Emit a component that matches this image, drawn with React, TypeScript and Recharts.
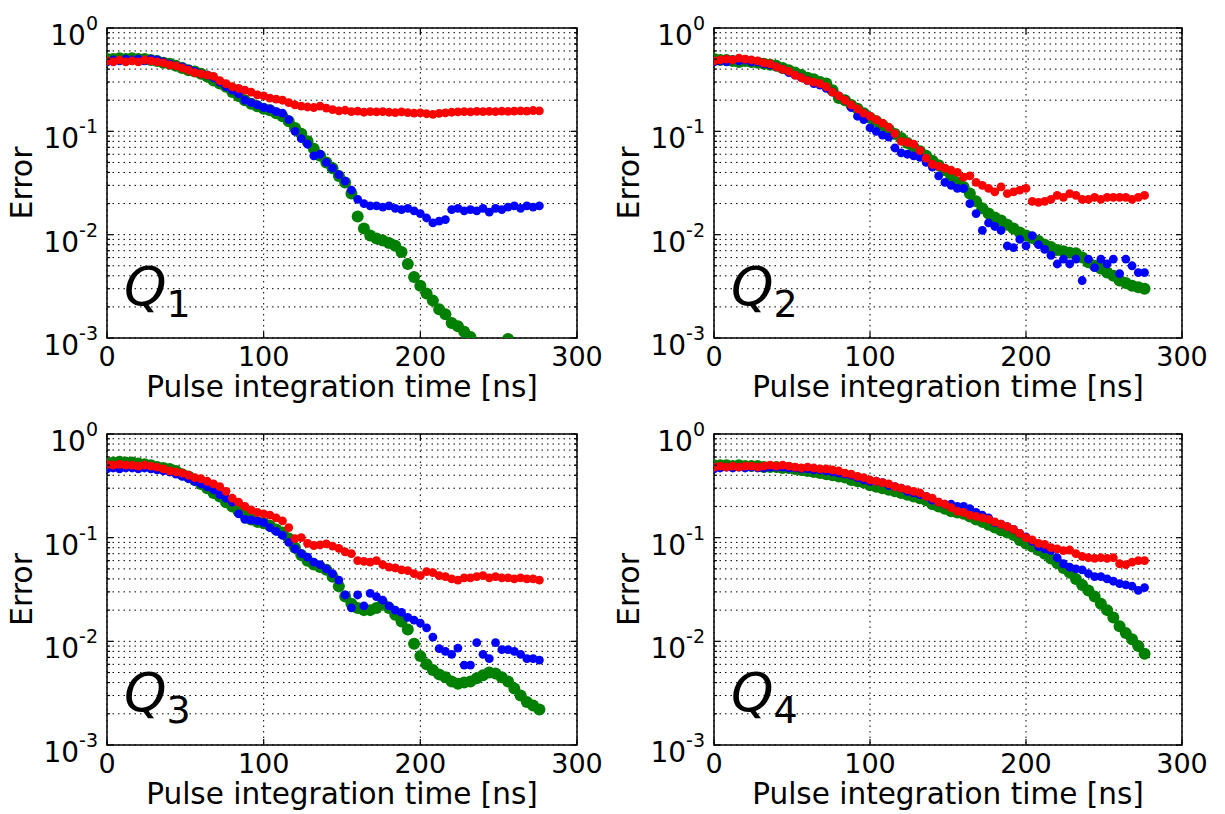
import React from "react";
import { ScatterChart, Scatter, XAxis, YAxis, CartesianGrid, ReferenceArea } from "recharts";

const FONT = "DejaVu Sans";

const TIMES = [
  0, 4, 8, 12, 16, 20, 24, 28, 32, 36,
  40, 44, 48, 52, 56, 60, 64, 68, 72, 76,
  80, 84, 88, 92, 96, 100, 104, 108, 112, 116,
  120, 124, 128, 132, 136, 140, 144, 148, 152, 156,
  160, 164, 168, 172, 176, 180, 184, 188, 192, 196,
  200, 204, 208, 212, 216, 220, 224, 228, 232, 236,
  240, 244, 248, 252, 256, 260, 264, 268, 272, 276,
];

const X_TICKS = [0, 100, 200, 300];
const Y_TICKS = [
  0.001, 0.002, 0.003, 0.004, 0.005, 0.006, 0.007, 0.008, 0.009,
  0.01, 0.02, 0.03, 0.04, 0.05, 0.06, 0.07, 0.08, 0.09,
  0.1, 0.2, 0.3, 0.4, 0.5, 0.6, 0.7, 0.8, 0.9,
  1,
];

// Q1
const q1Red = [
  0.48, 0.47, 0.49, 0.47, 0.48, 0.47, 0.49, 0.48, 0.47, 0.46,
  0.44, 0.43, 0.41, 0.39, 0.37, 0.36, 0.35, 0.34, 0.31, 0.29,
  0.27, 0.26, 0.25, 0.24, 0.225, 0.22, 0.21, 0.205, 0.2, 0.19,
  0.18, 0.175, 0.172, 0.17, 0.175, 0.168, 0.162, 0.158, 0.16, 0.155,
  0.157, 0.153, 0.155, 0.154, 0.155, 0.153, 0.152, 0.154, 0.152, 0.15,
  0.151, 0.148, 0.146, 0.149, 0.151, 0.153, 0.154, 0.155, 0.154, 0.156,
  0.155, 0.156, 0.155, 0.157, 0.156, 0.157, 0.158, 0.157, 0.159, 0.158,
];
const q1Blue = [
  0.47, 0.49, 0.48, 0.5, 0.49, 0.5, 0.48, 0.5, 0.49, 0.47,
  0.45, 0.43, 0.42, 0.4, 0.38, 0.36, 0.35, 0.33, 0.3, 0.27,
  0.25, 0.23, 0.2, 0.19, 0.18, 0.17, 0.165, 0.155, 0.15, 0.13,
  0.1, 0.085, 0.075, 0.058, 0.06, 0.05, 0.044, 0.038, 0.033, 0.027,
  0.022, 0.02, 0.019, 0.019, 0.0185, 0.019, 0.018, 0.0175, 0.018, 0.017,
  0.016, 0.0145, 0.013, 0.0135, 0.014, 0.0175, 0.018, 0.017, 0.0175, 0.017,
  0.018, 0.0165, 0.018, 0.0175, 0.0185, 0.019, 0.018, 0.019, 0.0185, 0.019,
];
const q1Green = [
  0.5, 0.5, 0.51, 0.5, 0.51, 0.5, 0.5, 0.49, 0.48, 0.46,
  0.45, 0.43, 0.41, 0.39, 0.38, 0.36, 0.34, 0.31, 0.29, 0.27,
  0.24, 0.22, 0.2, 0.185, 0.175, 0.165, 0.16, 0.15, 0.14, 0.125,
  0.108, 0.095, 0.08, 0.068, 0.058, 0.05, 0.044, 0.037, 0.032, 0.025,
  0.015, 0.0115, 0.0098, 0.0092, 0.0088, 0.0083, 0.0078, 0.0068, 0.0052, 0.0039,
  0.0032, 0.0027, 0.0023, 0.0019, 0.0017, 0.0014, 0.0013, 0.00115, 0.00102, null,
  null, null, null, null, 0.00098, null, null, null, null, null,
];

// Q2
const q2Red = [
  0.48, 0.49, 0.5, 0.49, 0.51, 0.5, 0.49, 0.48, 0.46, 0.45,
  0.42, 0.4, 0.38, 0.35, 0.33, 0.31, 0.3, 0.29, 0.27, 0.24,
  0.22, 0.2, 0.18, 0.165, 0.15, 0.14, 0.13, 0.12, 0.11, 0.095,
  0.08, 0.078, 0.075, 0.065, 0.055, 0.048, 0.046, 0.044, 0.042, 0.04,
  0.036, 0.037, 0.032, 0.03, 0.028, 0.026, 0.029, 0.025, 0.026, 0.027,
  0.028, 0.021, 0.0205, 0.021, 0.022, 0.024, 0.023, 0.025, 0.024, 0.022,
  0.022, 0.023, 0.022, 0.023, 0.023, 0.023, 0.023, 0.022, 0.023, 0.024,
];
const q2Blue = [
  0.47, 0.48, 0.47, 0.49, 0.48, 0.49, 0.47, 0.47, 0.45, 0.44,
  0.42, 0.4, 0.37, 0.35, 0.33, 0.31, 0.29, 0.28, 0.26, 0.24,
  0.22, 0.2, 0.17, 0.14, 0.13, 0.108, 0.1, 0.092, 0.088, 0.069,
  0.062, 0.06, 0.058, 0.056, 0.05, 0.045, 0.037, 0.032, 0.03, 0.028,
  0.028, 0.02, 0.016, 0.011, 0.013, 0.012, 0.011, 0.0078, 0.0075, 0.009,
  0.0078, 0.0098, 0.008, 0.0072, 0.0063, 0.0052, 0.0058, 0.0052, 0.0058, 0.0036,
  0.0058, 0.0048, 0.0058, 0.0052, 0.0058, 0.0042, 0.0058, 0.005, 0.0043, 0.0043,
];
const q2Green = [
  0.5, 0.49, 0.49, 0.48, 0.47, 0.48, 0.47, 0.46, 0.45, 0.44,
  0.43, 0.41, 0.39, 0.37, 0.35, 0.33, 0.32, 0.3, 0.29, 0.25,
  0.21, 0.2, 0.18, 0.165, 0.15, 0.135, 0.125, 0.115, 0.104, 0.094,
  0.086, 0.077, 0.07, 0.064, 0.058, 0.052, 0.047, 0.042, 0.037, 0.032,
  0.029, 0.025, 0.021, 0.018, 0.016, 0.0147, 0.0137, 0.0125, 0.0115, 0.0105,
  0.0098, 0.0093, 0.0087, 0.008, 0.0076, 0.0071, 0.0069, 0.0067, 0.0066, 0.006,
  0.0054, 0.005, 0.0047, 0.0043, 0.004, 0.0036, 0.0034, 0.0032, 0.0031, 0.003,
];

// Q3
const q3Red = [
  0.51, 0.5, 0.51, 0.5, 0.5, 0.49, 0.5, 0.49, 0.48, 0.46,
  0.44, 0.43, 0.42, 0.4, 0.38, 0.37, 0.35, 0.33, 0.31, 0.28,
  0.24, 0.22, 0.2, 0.185, 0.175, 0.17, 0.165, 0.155, 0.145, 0.125,
  0.098, 0.1, 0.088, 0.084, 0.085, 0.087, 0.083, 0.079, 0.073, 0.07,
  0.06, 0.059, 0.058, 0.06, 0.055, 0.052, 0.051, 0.049, 0.048, 0.045,
  0.043, 0.047, 0.046, 0.043, 0.042, 0.04, 0.039, 0.041, 0.041, 0.042,
  0.043, 0.041, 0.042, 0.041, 0.041, 0.04, 0.041, 0.04, 0.04, 0.039,
];
const q3Blue = [
  0.46, 0.47, 0.46, 0.47, 0.47, 0.46, 0.47, 0.46, 0.45, 0.44,
  0.43, 0.41, 0.39, 0.37, 0.35, 0.33, 0.31, 0.29, 0.26, 0.24,
  0.22, 0.17, 0.15, 0.148, 0.145, 0.14, 0.125, 0.115, 0.105, 0.09,
  0.078, 0.07, 0.065, 0.058, 0.055, 0.05, 0.045, 0.039, 0.028, 0.021,
  0.028, 0.022, 0.029, 0.027, 0.025, 0.022, 0.02, 0.019, 0.017, 0.016,
  0.015, 0.0135, 0.011, 0.0085, 0.008, 0.0075, 0.0086, 0.0059, 0.0059, 0.0097,
  0.0075, 0.0068, 0.0097, 0.0083, 0.0083, 0.008, 0.0075, 0.0068, 0.0068, 0.0066,
];
const q3Green = [
  0.52, 0.53, 0.54, 0.53, 0.53, 0.52, 0.51, 0.5, 0.48, 0.47,
  0.46, 0.44, 0.41, 0.39, 0.36, 0.33, 0.3, 0.27, 0.25, 0.22,
  0.2, 0.18, 0.165, 0.15, 0.142, 0.138, 0.13, 0.12, 0.112, 0.098,
  0.08, 0.068, 0.06, 0.055, 0.052, 0.049, 0.042, 0.034, 0.027, 0.023,
  0.021, 0.02, 0.02, 0.021, 0.023, 0.021, 0.018, 0.0155, 0.013, 0.0095,
  0.0072, 0.006, 0.0053, 0.0048, 0.0045, 0.0041, 0.0039, 0.004, 0.0041, 0.0044,
  0.0047, 0.005, 0.0049, 0.0045, 0.0041, 0.0035, 0.003, 0.0026, 0.0024, 0.0022,
];

// Q4
const q4Red = [
  0.48, 0.49, 0.48, 0.49, 0.48, 0.49, 0.49, 0.48, 0.49, 0.5,
  0.49, 0.5, 0.49, 0.48, 0.47, 0.48, 0.47, 0.46, 0.46, 0.45,
  0.44, 0.42, 0.41, 0.39, 0.38, 0.36, 0.35, 0.34, 0.33, 0.31,
  0.3, 0.29, 0.28, 0.27, 0.25, 0.24, 0.22, 0.21, 0.195, 0.18,
  0.175, 0.165, 0.16, 0.155, 0.15, 0.142, 0.135, 0.128, 0.12, 0.11,
  0.1, 0.095, 0.088, 0.086, 0.08, 0.078, 0.075, 0.076, 0.07, 0.066,
  0.064, 0.063, 0.064, 0.063, 0.064, 0.056, 0.055, 0.058, 0.06, 0.06,
];
const q4Blue = [
  0.46, 0.47, 0.48, 0.47, 0.48, 0.47, 0.48, 0.47, 0.47, 0.48,
  0.48, 0.48, 0.47, 0.47, 0.46, 0.46, 0.45, 0.45, 0.44, 0.43,
  0.42, 0.41, 0.4, 0.38, 0.36, 0.35, 0.35, 0.34, 0.32, 0.31,
  0.3, 0.28, 0.27, 0.26, 0.25, 0.23, 0.22, 0.21, 0.21, 0.2,
  0.2, 0.19, 0.175, 0.165, 0.155, 0.14, 0.135, 0.128, 0.12, 0.11,
  0.102, 0.092, 0.082, 0.078, 0.075, 0.064, 0.056, 0.052, 0.05, 0.049,
  0.045, 0.042, 0.042, 0.04, 0.038, 0.036, 0.035, 0.034, 0.031, 0.033,
];
const q4Green = [
  0.5, 0.5, 0.5, 0.49, 0.5, 0.49, 0.49, 0.49, 0.48, 0.48,
  0.48, 0.47, 0.47, 0.46, 0.45, 0.44, 0.43, 0.42, 0.41, 0.4,
  0.39, 0.38, 0.36, 0.35, 0.34, 0.32, 0.31, 0.3, 0.29, 0.28,
  0.27, 0.26, 0.25, 0.24, 0.23, 0.21, 0.2, 0.19, 0.18, 0.175,
  0.17, 0.16, 0.15, 0.142, 0.133, 0.125, 0.118, 0.112, 0.106, 0.095,
  0.088, 0.082, 0.076, 0.07, 0.063, 0.057, 0.051, 0.046, 0.04, 0.035,
  0.031, 0.027, 0.023, 0.02, 0.017, 0.014, 0.012, 0.0105, 0.009, 0.0076,
];

type Values = (number | null)[];

const toPoints = (values: Values) =>
  TIMES.map((t, i) => ({ t, v: values[i] })).filter((p) => p.v != null);

const panels = [
  { sub: "1", left: 0, top: 0, width: 612, height: 407, plotLeft: 107, plotTop: 28, plotW: 470, plotH: 310, red: q1Red, blue: q1Blue, green: q1Green },
  { sub: "2", left: 612, top: 0, width: 613, height: 407, plotLeft: 102, plotTop: 28, plotW: 468, plotH: 310, red: q2Red, blue: q2Blue, green: q2Green },
  { sub: "3", left: 0, top: 407, width: 612, height: 407, plotLeft: 107, plotTop: 27, plotW: 470, plotH: 311, red: q3Red, blue: q3Blue, green: q3Green },
  { sub: "4", left: 612, top: 407, width: 613, height: 407, plotLeft: 102, plotTop: 27, plotW: 468, plotH: 311, red: q4Red, blue: q4Blue, green: q4Green },
];

type Panel = (typeof panels)[number];

const dot = (r: number, fill: string) => (p: any) =>
  <circle cx={p.cx} cy={p.cy} r={r} fill={fill} />;

function makeYTick(cfg: Panel) {
  return (props: any) => {
    const { y, payload } = props;
    const exp = Math.log10(payload.value);
    const major = Math.abs(exp - Math.round(exp)) < 1e-6;
    const len = major ? 6 : 3;
    const right = cfg.plotLeft + cfg.plotW;
    return (
      <g>
        <line x1={cfg.plotLeft} x2={cfg.plotLeft + len} y1={y} y2={y} stroke="#000" strokeWidth={1.2} />
        <line x1={right - len} x2={right} y1={y} y2={y} stroke="#000" strokeWidth={1.2} />
        {major && (
          <text x={cfg.plotLeft - 9} y={y + 17} textAnchor="end" fontSize={28} fontFamily={FONT} fill="#000">
            10
            <tspan dy={-15} fontSize={19}>{String(Math.round(exp))}</tspan>
          </text>
        )}
      </g>
    );
  };
}

function makeXTick(cfg: Panel) {
  return (props: any) => {
    const { x, payload } = props;
    const bottom = cfg.plotTop + cfg.plotH;
    return (
      <g>
        <line x1={x} x2={x} y1={bottom} y2={bottom - 6} stroke="#000" strokeWidth={1.2} />
        <line x1={x} x2={x} y1={cfg.plotTop} y2={cfg.plotTop + 6} stroke="#000" strokeWidth={1.2} />
        <text x={x} y={bottom + 28} textAnchor="middle" fontSize={27} fontFamily={FONT} fill="#000">
          {payload.value}
        </text>
      </g>
    );
  };
}

function Titles({ cfg }: { cfg: Panel }) {
  const bottom = cfg.plotTop + cfg.plotH;
  const ex = cfg.plotLeft - 75;
  const ey = cfg.plotTop + cfg.plotH / 2;
  return (
    <g fontFamily={FONT} fill="#000">
      <text x={cfg.plotLeft + cfg.plotW / 2} y={bottom + 59} textAnchor="middle" fontSize={29.5}>
        Pulse integration time [ns]
      </text>
      <text x={ex} y={ey} textAnchor="middle" fontSize={30} transform={`rotate(-90, ${ex}, ${ey})`}>
        Error
      </text>
      <text x={cfg.plotLeft + 17} y={cfg.plotTop + 277} fontSize={54} fontStyle="italic">
        Q
        <tspan dy={12} fontSize={38} fontStyle="normal">{cfg.sub}</tspan>
      </text>
    </g>
  );
}

function QubitPanel({ cfg }: { cfg: Panel }) {
  const margin = {
    top: cfg.plotTop,
    right: cfg.width - cfg.plotLeft - cfg.plotW,
    bottom: 0,
    left: 0,
  };
  const xAxisHeight = cfg.height - cfg.plotTop - cfg.plotH;
  return (
    <div style={{ position: "absolute", left: cfg.left, top: cfg.top }}>
      <ScatterChart width={cfg.width} height={cfg.height} margin={margin}>
        <CartesianGrid stroke="#000" strokeWidth={1} strokeDasharray="1.5 4" />
        <XAxis
          type="number"
          dataKey="t"
          domain={[0, 300]}
          ticks={X_TICKS}
          interval={0}
          allowDataOverflow
          height={xAxisHeight}
          axisLine={false}
          tickLine={false}
          tickSize={0}
          tick={makeXTick(cfg)}
          label={<Titles cfg={cfg} />}
        />
        <YAxis
          type="number"
          dataKey="v"
          scale="log"
          domain={[0.001, 1]}
          ticks={Y_TICKS}
          interval={0}
          allowDataOverflow
          width={cfg.plotLeft}
          axisLine={false}
          tickLine={false}
          tickSize={0}
          tick={makeYTick(cfg)}
        />
        <Scatter data={toPoints(cfg.green)} fill="#008000" shape={dot(6, "#008000")} isAnimationActive={false} />
        <Scatter data={toPoints(cfg.blue)} fill="#0000ff" shape={dot(4.4, "#0000ff")} isAnimationActive={false} />
        <Scatter data={toPoints(cfg.red)} fill="#ff0000" shape={dot(4.4, "#ff0000")} isAnimationActive={false} />
        <ReferenceArea x1={0} x2={300} y1={0.001} y2={1} fill="none" stroke="#000" strokeWidth={1.5} ifOverflow="visible" />
      </ScatterChart>
    </div>
  );
}

export default function App() {
  return (
    <div style={{ position: "absolute", left: 0, top: 0, width: 1225, height: 814, background: "#fff" }}>
      {panels.map((cfg) => (
        <QubitPanel key={cfg.sub} cfg={cfg} />
      ))}
    </div>
  );
}
